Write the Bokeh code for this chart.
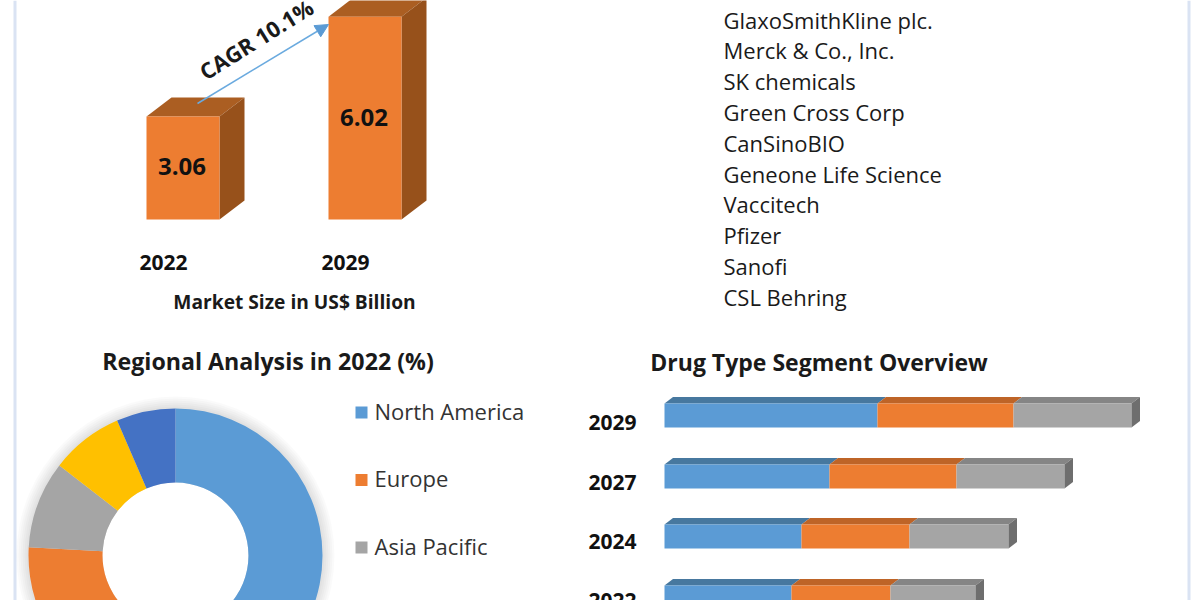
from math import pi
from bokeh.plotting import figure
from bokeh.models import Range1d, Arrow, NormalHead
from bokeh.core.properties import value
from bokeh.embed import file_html
from bokeh.resources import INLINE

market_years = ["2022", "2029"]
market_values = [3.06, 6.02]
companies = ["GlaxoSmithKline plc.", "Merck & Co., Inc.", "SK chemicals", "Green Cross Corp",
             "CanSinoBIO", "Geneone Life Science", "Vaccitech", "Pfizer", "Sanofi", "CSL Behring"]
regions = ["North America", "Europe", "Asia Pacific"]
region_share = [50.0, 25.9, 9.6, 8.0, 6.5]
region_colors = ["#5B9BD5", "#ED7D31", "#A5A5A5", "#FFC000", "#4472C4"]
drug_years = ["2029", "2027", "2024", "2022"]
seg_a = [2.13, 1.65, 1.37, 1.27]
seg_b = [1.36, 1.27, 1.08, 0.99]
seg_c = [1.18, 1.08, 0.99, 0.85]

FONT = value("Open Sans")
L, T, W, H = 0, 0, 1200, 600
p = figure(width=W, height=H, output_backend="svg", toolbar_location=None,
           x_range=Range1d(L, L + W), y_range=Range1d(T + H, T),
           x_axis_location=None, y_axis_location=None, min_border=0,
           outline_line_color=None, background_fill_color="white")
p.grid.visible = False

def rng(origin, k, lo, hi):
    return Range1d((lo - origin) / k, (hi - origin) / k)

p.extra_y_ranges["market"] = rng(219, -33.7, T + H, T)
p.extra_x_ranges["drug"] = rng(664, 100, L, L + W)

def txt(x, y, s, size, bold=False, align="left", angle=0.0, color="#1a1a1a"):
    p.text([x], [y], text=[s], text_font=FONT, text_font_size=f"{size}px",
           text_font_style="bold" if bold else "normal", text_align=align,
           text_baseline="middle", text_color=color, angle=angle)

for x in (14.5, 1188.5):
    p.segment([x], [T], [x], [T + H], line_color="#DAE3F3", line_width=3)

k_m = 33.7
for i, (yr, v) in enumerate(zip(market_years, market_values)):
    x0 = 146 + 182 * i
    x1 = x0 + 73
    dx, dy = 25 / 1, 19 / k_m
    p.patch([x0, x1, x1 + dx, x0 + dx], [v, v, v + dy, v + dy], y_range_name="market",
            fill_color="#AB5E22", line_color=None)
    p.patch([x1, x1 + dx, x1 + dx, x1], [v, v + dy, dy, 0], y_range_name="market",
            fill_color="#97511B", line_color=None)
    p.quad(left=[x0], right=[x1], bottom=[0], top=[v], y_range_name="market",
           fill_color="#ED7D31", line_color=None)
    p.text([x0 + 35.5], [v / 2 + 1 / k_m], text=[f"{v:.2f}"], y_range_name="market", text_font=FONT,
           text_font_size="24px", text_font_style="bold", text_align="center",
           text_baseline="middle", text_color="#111111")
    txt(163 + 182 * i, 262, yr, 21, bold=True, align="center", color="#111111")

txt(294, 301, "Market Size in US$ Billion", 19.2, bold=True, align="center")
p.add_layout(Arrow(end=NormalHead(size=13, fill_color="#5B9BD5", line_color="#5B9BD5"),
                   x_start=197, y_start=103, x_end=328, y_end=24,
                   line_color="#6AAADF", line_width=1.5))
txt(255.5, 38.5, "CAGR 10.1%", 22, bold=True, align="center", angle=0.56)

for i, c in enumerate(companies):
    txt(723, 22 + 30.8 * i - 3, c, 22)

txt(267.5, 360, "Regional Analysis in 2022 (%)", 23.2, bold=True, align="center")
cx, cy, r_out, r_in = 175, 555, 147, 73
for dr in (12, 10, 8, 6, 4, 2):
    p.circle([cx], [cy], radius=r_out + dr, fill_color="#000000", fill_alpha=0.018, line_color=None)
p.circle([cx], [cy], radius=r_in, fill_color="white", line_color=None)
ang = pi / 2
tot = sum(region_share)
for s, col in zip(region_share, region_colors):
    nxt = ang - 2 * pi * s / tot
    p.annular_wedge([cx], [cy], inner_radius=r_in, outer_radius=r_out, start_angle=nxt, end_angle=ang,
                    direction="anticlock", fill_color=col, line_color=None)
    ang = nxt
for i, name in enumerate(regions):
    ly = [412, 479.5, 547][i]
    p.rect([361], [ly], width=12, height=12, fill_color=region_colors[i], line_color=None)
    txt(374, ly - 2, name, 22, color="#333333")

txt(818.5, 361, "Drug Type Segment Overview", 23, bold=True, align="center")
cols = ["#5B9BD5", "#ED7D31", "#A5A5A5"]
tops = ["#47789F", "#BE6427", "#858585"]
fronts = [403, 464, 524, 585]
labels_y = [422, 482, 541, 600]
dx_u = 0.085
for i, yr in enumerate(drug_years):
    y0 = fronts[i]
    y1 = y0 + 24
    start = 0.0
    for vals, c, t in zip((seg_a, seg_b, seg_c), cols, tops):
        e = start + vals[i]
        p.patch([start, e, e + dx_u, start + dx_u], [y0, y0, y0 - 6.5, y0 - 6.5], x_range_name="drug",
                fill_color=t, line_color=None)
        p.quad(left=[start], right=[e], top=[y0], bottom=[y1], x_range_name="drug",
               fill_color=c, line_color=None)
        start = e
    p.patch([start, start + dx_u, start + dx_u, start], [y0, y0 - 6.5, y1 - 6.5, y1], x_range_name="drug",
            fill_color="#6E6E6E", line_color=None)
    txt(612, labels_y[i], yr, 21, bold=True, align="center", color="#111111")

open("out.html", "w").write(file_html(p, INLINE))
